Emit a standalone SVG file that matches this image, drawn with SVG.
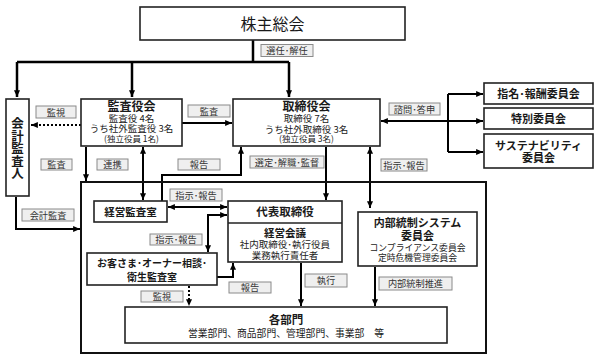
<svg xmlns="http://www.w3.org/2000/svg" width="600" height="359" viewBox="0 0 600 359">
<defs>
<style>
text{font-family:"Noto Sans CJK JP","Noto Sans CJK SC",sans-serif;fill:#1a1a1a;text-anchor:middle}
.box{fill:#fff;stroke:#222;stroke-width:1.6}
.lbl rect{fill:#efefef;stroke:#8a8a8a;stroke-width:1}
.lbl text{font-size:9.2px;fill:#333}
.b{font-weight:bold}
.t{font-size:11px;font-weight:bold}
.s{font-size:9.5px}
.c{fill:none;stroke:#000;stroke-width:2}
.c.thick{stroke-width:2.5}
.dot{stroke-dasharray:2 2}
</style>
<marker id="ah" viewBox="0 0 8 7" refX="8" refY="3.5" markerWidth="7" markerHeight="6" markerUnits="userSpaceOnUse" orient="auto-start-reverse">
<path d="M0,0 L8,3.5 L0,7 z" fill="#000"/>
</marker>
</defs>
<rect width="600" height="359" fill="#fff"/>

<g id="connectors">
<path class="c thick" d="M253,40 V62 M17,62 H289"/>
<path class="c thick" d="M17,62 V97" marker-end="url(#ah)"/>
<path class="c thick" d="M132,62 V97" marker-end="url(#ah)"/>
<path class="c thick" d="M289,62 V97" marker-end="url(#ah)"/>
<path class="c dot" d="M81,125 H31" marker-end="url(#ah)"/>
<path class="c" d="M182,123 H232" marker-end="url(#ah)"/>
<path class="c" d="M448,121 H381" marker-end="url(#ah)"/>
<path class="c" d="M448,94 V152"/>
<path class="c" d="M448,94 H483" marker-end="url(#ah)"/>
<path class="c" d="M448,121 H483" marker-end="url(#ah)"/>
<path class="c" d="M448,152 H483" marker-end="url(#ah)"/>
<path class="c" d="M86,147 V181" marker-end="url(#ah)"/>
<path class="c" d="M143,147 V200" marker-start="url(#ah)" marker-end="url(#ah)"/>
<path class="c" d="M162,201 V175 H241 V147" marker-end="url(#ah)"/>
<path class="c" d="M326,147 V200" marker-end="url(#ah)"/>
<path class="c" d="M370,147 V208" marker-start="url(#ah)" marker-end="url(#ah)"/>
<path class="c" d="M168,207 H227" marker-start="url(#ah)" marker-end="url(#ah)"/>
<path class="c" d="M227,215 H208 V252" marker-start="url(#ah)" marker-end="url(#ah)"/>
<path class="c" d="M217,277 H233 V263" marker-end="url(#ah)"/>
<path class="c dot" d="M189,286 V306" marker-end="url(#ah)"/>
<path class="c" d="M301,263 V306" marker-end="url(#ah)"/>
<path class="c" d="M375,267 V306" marker-end="url(#ah)"/>
<path class="c" d="M16,197 V229 H80" marker-end="url(#ah)"/>
</g>

<g id="company-frame"><rect x="81" y="182" width="405" height="171" fill="none" stroke="#111" stroke-width="2"/></g>

<g id="shareholders"><rect class="box" x="140" y="7" width="265" height="33" stroke-width="3"/><text x="272.5" y="30" font-size="16">株主総会</text></g>

<g id="accounting-auditor"><rect class="box" x="6" y="99" width="23" height="97"/>
<text class="b" x="17.5" y="117" font-size="12.5" writing-mode="vertical-rl" style="text-anchor:start" letter-spacing="0">会計監査人</text></g>

<g id="audit-board"><rect class="box" x="81" y="99" width="101" height="47"/>
<text x="131.5" y="110.5" class="b" font-size="12">監査役会</text>
<text x="131.5" y="121.5" class="s">監査役 4名</text>
<text x="131.5" y="132" class="s">うち社外監査役 3名</text>
<text x="131.5" y="141.5" font-size="8.5">(独立役員 1名)</text></g>

<g id="board"><rect class="box" x="233" y="99" width="147" height="47"/>
<text x="306.5" y="110.5" class="b" font-size="12">取締役会</text>
<text x="306.5" y="122" class="s">取締役 7名</text>
<text x="306.5" y="132.5" class="s">うち社外取締役 3名</text>
<text x="306.5" y="142" font-size="8.5">(独立役員 3名)</text></g>

<g id="nomination"><rect class="box" x="484" y="83" width="109" height="21"/><text x="538.5" y="97.5" class="t">指名･報酬委員会</text></g>
<g id="special"><rect class="box" x="484" y="108" width="109" height="21"/><text x="538.5" y="122.5" class="t">特別委員会</text></g>
<g id="sustainability"><rect class="box" x="484" y="134" width="109" height="34"/><text x="538.5" y="149.5" class="t">サステナビリティ</text><text x="538.5" y="162" class="t">委員会</text></g>

<g id="mgmt-audit"><rect class="box" x="94" y="201" width="73" height="21"/><text x="130.5" y="215.5" class="b" font-size="10.5">経営監査室</text></g>

<g id="representative"><rect class="box" x="228" y="201" width="114" height="61"/><line x1="228" y1="223" x2="342" y2="223" stroke="#222" stroke-width="1.6"/>
<text x="285" y="216" class="b" font-size="11.5">代表取締役</text>
<text x="285" y="237" class="b" font-size="10.5">経営会議</text>
<text x="285" y="248" class="s">社内取締役･執行役員</text>
<text x="285" y="258.5" class="s">業務執行責任者</text></g>

<g id="customer-audit"><rect class="box" x="87" y="253" width="130" height="32"/>
<text x="152" y="267" class="b" font-size="10">お客さま･オーナー相談･</text>
<text x="152" y="281" class="b" font-size="10">衛生監査室</text></g>

<g id="internal-control"><rect class="box" x="358" y="212" width="119" height="54"/>
<text x="417.5" y="227" class="t">内部統制システム</text>
<text x="417.5" y="240" class="t">委員会</text>
<text x="417.5" y="250.5" font-size="8.8">コンプライアンス委員会</text>
<text x="417.5" y="260.5" font-size="8.8">定時危機管理委員会</text></g>

<g id="departments"><rect class="box" x="125" y="307" width="322" height="36"/>
<text x="286" y="324" class="b" font-size="11.5">各部門</text>
<text x="286" y="337" font-size="9.8">営業部門、商品部門、管理部門、事業部　等</text></g>

<g id="labels">
<g class="lbl"><rect x="261" y="44.5" width="52" height="12"/><text x="287" y="54">選任･解任</text></g>
<g class="lbl"><rect x="36" y="106" width="40" height="12"/><text x="56" y="115.5">監視</text></g>
<g class="lbl"><rect x="188" y="105" width="42" height="12"/><text x="209" y="114.5">監査</text></g>
<g class="lbl"><rect x="389" y="103" width="51" height="12"/><text x="414.5" y="112.5">諮問･答申</text></g>
<g class="lbl"><rect x="41" y="159" width="31" height="11"/><text x="56.5" y="168">監査</text></g>
<g class="lbl"><rect x="97" y="159" width="31" height="11"/><text x="112.5" y="168">連携</text></g>
<g class="lbl"><rect x="178" y="159" width="42" height="11"/><text x="199" y="168">報告</text></g>
<g class="lbl"><rect x="250" y="156" width="74" height="12"/><text x="287" y="165.5">選定･解職･監督</text></g>
<g class="lbl"><rect x="381" y="159" width="46" height="12"/><text x="404" y="168.5">指示･報告</text></g>
<g class="lbl"><rect x="170" y="189" width="52" height="12"/><text x="196" y="198.5">指示･報告</text></g>
<g class="lbl"><rect x="22" y="209" width="52" height="12"/><text x="48" y="218.5">会計監査</text></g>
<g class="lbl"><rect x="150" y="234" width="52" height="11"/><text x="176" y="243">指示･報告</text></g>
<g class="lbl"><rect x="305" y="274" width="42" height="13"/><text x="326" y="284">執行</text></g>
<g class="lbl"><rect x="379" y="277" width="73" height="13"/><text x="415.5" y="287">内部統制推進</text></g>
<g class="lbl"><rect x="229" y="282" width="42" height="11"/><text x="250" y="291">報告</text></g>
<g class="lbl"><rect x="141" y="291" width="42" height="11"/><text x="162" y="300">監視</text></g>
</g>
</svg>
